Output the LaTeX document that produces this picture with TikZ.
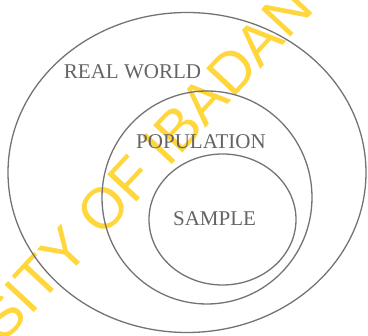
\documentclass[tikz,border=0pt]{standalone}
\usepackage{fontspec}
\setmainfont{Liberation Serif}
\newfontfamily\wmfont{Liberation Sans}
\definecolor{linegray}{RGB}{115,115,115}
\definecolor{textgray}{RGB}{100,100,100}
\definecolor{wmyellow}{RGB}{255,214,60}
\begin{document}
\begin{tikzpicture}[x=1pt,y=-1pt,
  ring/.style={draw=linegray,line width=1.3pt},
  lbl/.style={text=textgray,font=\fontsize{21}{24}\selectfont,inner sep=0pt},
  wm/.style={text=wmyellow,font=\wmfont\fontsize{58}{62}\selectfont,inner sep=0pt}]
\useasboundingbox (0,0) rectangle (368,336);
\begin{scope}
\clip (0,0) rectangle (368,336);
\coordinate (sbase) at (3.4,345.2);
\path (sbase) ++(227:219pt) coordinate (wmstart);
\node[wm,anchor=base west,rotate=47] (watermark) at (wmstart) {UNIVERSITY OF IBADAN};
\end{scope}
\draw[ring] (187,172.5) ellipse [x radius=179, y radius=160];
\draw[ring] (207,197.5) ellipse [x radius=105, y radius=106.5];
\draw[ring] (222.5,219.5) ellipse [x radius=73.5, y radius=65.5];
\node[lbl] (realworld) at (132.5,72) {REAL WORLD};
\node[lbl] (population) at (201,142) {POPULATION};
\node[lbl] (sample) at (214.5,219) {SAMPLE};
\end{tikzpicture}
\end{document}
